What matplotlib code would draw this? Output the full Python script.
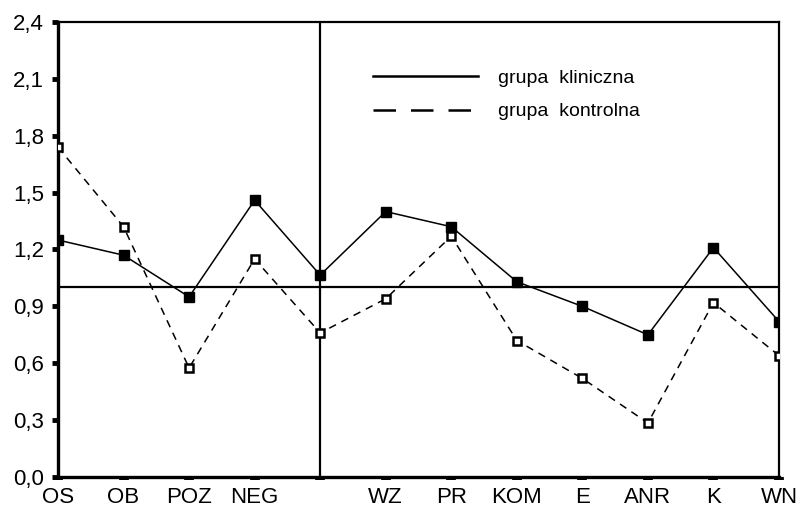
import matplotlib
matplotlib.use('Agg')
import matplotlib.pyplot as plt
import numpy as np

plt.rcParams['font.family'] = ['Liberation Sans', 'DejaVu Sans']

categories = ['OS', 'OB', 'POZ', 'NEG', '', 'WZ', 'PR', 'KOM', 'E', 'ANR', 'K', 'WN']
kliniczna = [1.25, 1.17, 0.95, 1.46, 1.065, 1.40, 1.32, 1.03, 0.90, 0.75, 1.21, 0.82]
kontrolna = [1.74, 1.32, 0.575, 1.15, 0.76, 0.94, 1.27, 0.72, 0.52, 0.285, 0.92, 0.64]
yticks = [0.0, 0.3, 0.6, 0.9, 1.2, 1.5, 1.8, 2.1, 2.4]
ytick_labels = ['0,0', '0,3', '0,6', '0,9', '1,2', '1,5', '1,8', '2,1', '2,4']

x = np.arange(len(categories))

fig = plt.figure(figsize=(8.03, 5.15), dpi=100)
ax = fig.add_axes([58/803, 1-477/515, (779-58)/803, (477-22)/515])

# linie odniesienia
ax.axhline(1.0, color='black', lw=1.6, zorder=1)
ax.axvline(x[4], color='black', lw=1.6, zorder=1)

ax.plot(x, kliniczna, color='black', lw=1.1, marker='s', ms=7.5,
        mfc='black', mec='black', label='grupa  kliniczna', zorder=3)
ax.plot(x, kontrolna, color='black', lw=1.1, dashes=(5, 4), marker='s', ms=6,
        mfc='white', mec='black', mew=1.8, label='grupa  kontrolna', zorder=3)

ax.set_xlim(x[0], x[-1])
ax.set_ylim(0, 2.4)
ax.set_xticks(x)
ax.set_xticklabels(categories, fontsize=16)
ax.set_yticks(yticks)
ax.set_yticklabels(ytick_labels, fontsize=16)

ax.tick_params(axis='x', direction='out', length=2, width=7, pad=5)
ax.tick_params(axis='y', direction='out', length=4, width=3.5, pad=6)

for s in ['left', 'bottom']:
    ax.spines[s].set_linewidth(2.4)
for s in ['top', 'right']:
    ax.spines[s].set_linewidth(1.6)

leg = ax.legend(loc='upper left', bbox_to_anchor=(0.413, 0.934), frameon=False,
                fontsize=14, handlelength=5.4, handletextpad=1.0, labelspacing=0.8)
for h in leg.get_lines():
    h.set_marker('')
    h.set_linewidth(1.8)
leg.get_lines()[1].set_dashes((9, 6))

fig.savefig('out.png', dpi=100)
